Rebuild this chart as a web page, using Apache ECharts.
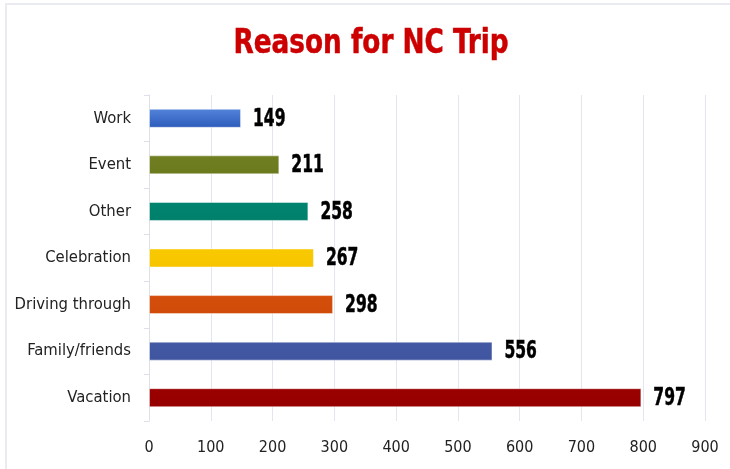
<!DOCTYPE html>
<html><head><meta charset="utf-8">
<script src="https://cdn.jsdelivr.net/npm/echarts@6/dist/echarts.min.js"></script>
<style>html,body{margin:0;padding:0;background:#fff;}#c{width:730px;height:469px;}
#frame{position:absolute;left:5px;top:3px;width:730px;height:470px;border-left:2px solid #e9ebf1;border-top:2px solid #e9ebf1;pointer-events:none;}</style>
</head><body><div id="c"></div><div id="frame"></div>
<script>
var categories = ['Work','Event','Other','Celebration','Driving through','Family/friends','Vacation'];
var values = [149,211,258,267,298,556,797];
var barColors = [
  ['#5384da','#2c5bbb'],
  ['#707f21','#6c7a1e'],
  ['#00846f','#00806c'],
  ['#f9c900','#f6c500'],
  ['#d44e0b','#d04b09'],
  ['#4459a4','#40559f'],
  ['#9a0000','#960000']
];
var xTicks = [0,900,100];
var titleText = 'Reason for NC Trip';
var FONT = "'Liberation Sans Narrow','DejaVu Sans Condensed','Roboto Condensed',sans-serif";
var chart = echarts.init(document.getElementById('c'));
chart.setOption({
  animation:false,
  backgroundColor:'#fff',
  graphic:[{type:'text',x:371,y:44,scaleX:0.86,
    style:{text:titleText,fill:'#cc0000',stroke:'#cc0000',lineWidth:0.5,fontSize:34,fontWeight:'bold',fontFamily:FONT,
      textAlign:'center',textVerticalAlign:'middle'}}],
  grid:{left:149,right:25,top:95,bottom:48,containLabel:false},
  xAxis:{type:'value',min:xTicks[0],max:xTicks[1],interval:xTicks[2],
    axisLine:{show:false},axisTick:{show:false},
    splitLine:{lineStyle:{color:'#e3e6ee',width:1}},
    axisLabel:{color:'#222',fontSize:16,fontFamily:FONT,margin:19}},
  yAxis:{type:'category',data:categories,inverse:true,
    axisLine:{lineStyle:{color:'#dde0e8'}},
    axisTick:{show:true,length:5,lineStyle:{color:'#dde0e8'}},
    axisLabel:{color:'#222',fontSize:16.5,fontFamily:FONT,margin:18}},
  series:[{type:'bar',barWidth:19,
    data:values.map(function(v,i){return {value:v,itemStyle:{
      color:new echarts.graphic.LinearGradient(0,0,0,1,[{offset:0,color:barColors[i][0]},{offset:1,color:barColors[i][1]}]),
      borderColor:'rgba(255,255,255,0.45)',borderWidth:1}};})
  },{type:'custom',
    data:values.map(function(v,i){return [v,i];}),
    encode:{x:0,y:1},
    renderItem:function(params,api){
      var p = api.coord([api.value(0), api.value(1)]);
      return {type:'text',x:p[0]+12,y:p[1]+1,scaleX:0.72,
        style:{text:String(api.value(0)),fill:'#000',stroke:'#000',lineWidth:0.5,fontSize:24,fontWeight:'bold',fontFamily:FONT,
          textAlign:'left',textVerticalAlign:'middle'}};
    }
  }]
});
</script></body></html>
